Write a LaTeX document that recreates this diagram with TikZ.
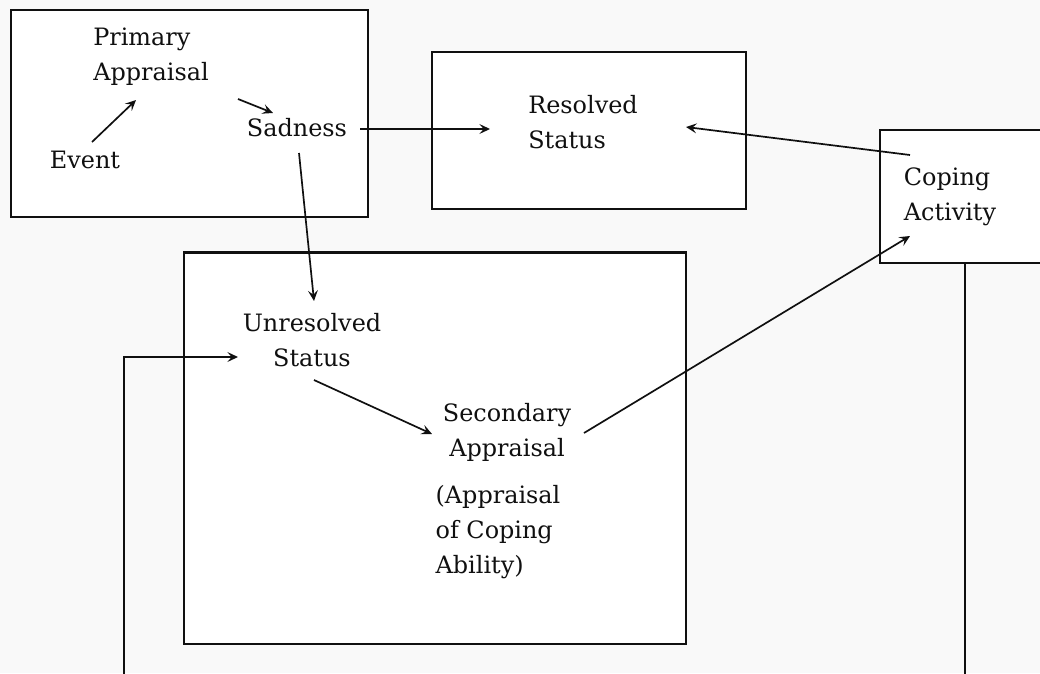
\documentclass[tikz,border=0pt]{standalone}
\usepackage{fontspec}
\setmainfont{DejaVu Serif}
\usepackage{tikz}
\usetikzlibrary{arrows.meta,calc}
\definecolor{pagebg}{HTML}{F9F9F9}
\definecolor{ink}{HTML}{101010}

\begin{document}
\begin{tikzpicture}[x=0.025cm,y=-0.025cm,font=\fontsize{17}{24.9}\selectfont]
  \tikzset{box/.style={draw=ink,line width=1.5pt,fill=white,inner sep=0pt},
    label/.style={inner sep=0pt,text=ink},
    arr/.style={-{Stealth[length=7.5pt,width=7pt,inset=3pt]},ink,line width=1.2pt}}
  \useasboundingbox (0,0) rectangle (1040,673);
  \clip (0,0) rectangle (1040,673);
  \fill[pagebg] (0,0) rectangle (1040,673);
  % boxes
  \node[box,minimum width=8.925cm,minimum height=5.175cm] (appraisalbox) at (189.5,113.5) {};
  \node[box,minimum width=7.85cm,minimum height=3.925cm] (resolvedbox) at (589,130.5) {};
  \node[box,minimum width=4.25cm,minimum height=3.325cm] (copingbox) at (965,196.5) {};
  \node[box,minimum width=12.525cm,minimum height=9.775cm] (statusbox) at (435,448) {};
  % texts
  \node[label,align=left] (primary) at (151,57) {Primary\\Appraisal};
  \node[label] (event) at (85,160) {Event};
  \node[label] (sadness) at (297,128) {Sadness};
  \node[label,align=left] (resolved) at (583,122) {Resolved\\Status};
  \node[label,align=left] (coping) at (950,197) {Coping\\Activity};
  \node[label,align=center] (unresolved) at (312,340) {Unresolved\\Status};
  \node[label,align=center] (secondary) at (507,432) {Secondary\\Appraisal};
  \node[label,align=left] (ability) at (498,532) {(Appraisal\\of Coping\\Ability)};
  \coordinate (loopbase) at (124,700);
  % arrows
  \draw[arr] ($(event)+(7,-18)$) -- ($(primary)+(-15,43)$);
  \draw[arr] ($(primary)+(87,42)$) -- ($(sadness)+(-24,-15)$);
  \draw[arr] ($(sadness)+(63,1)$) -- ($(resolved)+(-93,7)$);
  \draw[arr] ($(sadness)+(2,25)$) -- ($(unresolved)+(2,-39)$);
  \draw[arr] ($(coping)+(-40,-42)$) -- ($(resolved)+(103,5)$);
  \draw[arr] ($(unresolved)+(2,40)$) -- ($(secondary)+(-75,2)$);
  \draw[arr] ($(secondary)+(77,1)$) -- ($(coping)+(-40,39)$);
  \draw[arr,line width=1.4pt] (copingbox.south) |- (loopbase) |- ($(unresolved)+(-74,17)$);
\end{tikzpicture}
\end{document}
